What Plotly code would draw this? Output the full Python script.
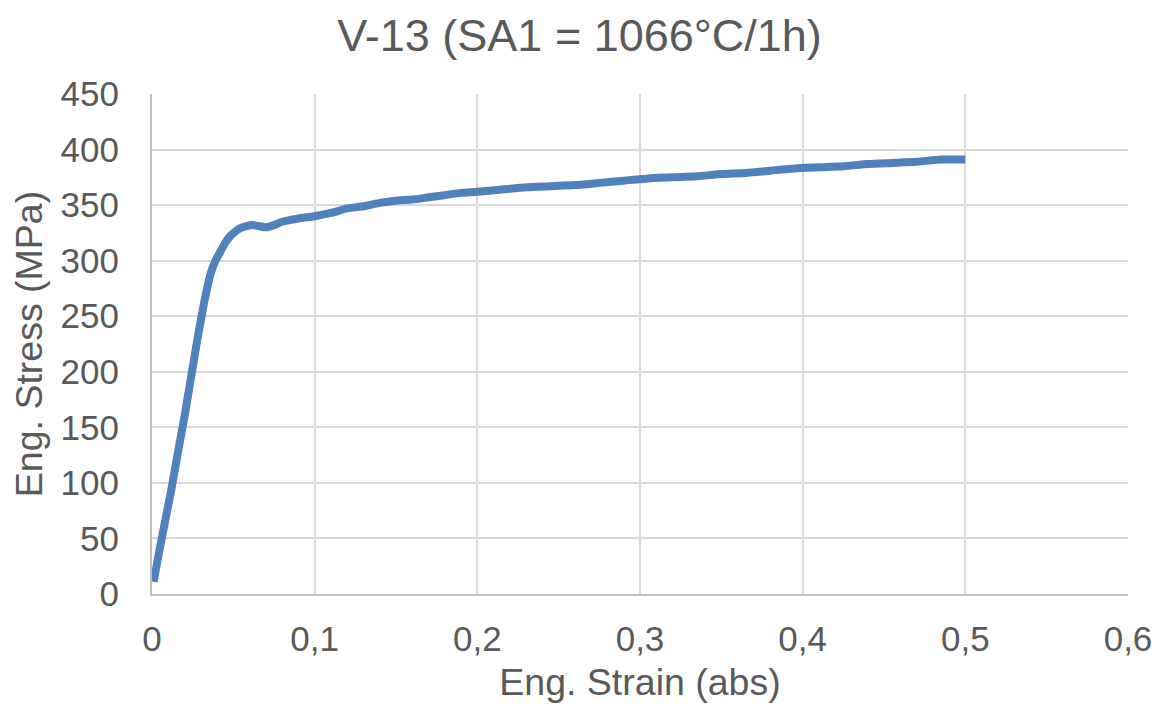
import plotly.graph_objects as go

strain = [0.001, 0.004, 0.008, 0.012, 0.016, 0.020, 0.024, 0.028, 0.032, 0.036,
          0.039, 0.042, 0.045, 0.048, 0.051, 0.054, 0.058, 0.062, 0.066, 0.070,
          0.075, 0.080, 0.090, 0.100, 0.110, 0.120, 0.130, 0.140, 0.150, 0.160,
          0.170, 0.180, 0.190, 0.200, 0.215, 0.230, 0.245, 0.260, 0.275, 0.290,
          0.305, 0.320, 0.335, 0.350, 0.365, 0.380, 0.395, 0.410, 0.425, 0.440,
          0.455, 0.470, 0.485, 0.500]
stress = [11, 35, 65, 95, 128, 160, 195, 230, 262, 288,
          300, 308, 316, 322, 326, 329, 331, 332, 331, 330,
          332, 335, 338, 340, 343, 347, 349, 352, 354, 355,
          357, 359, 361, 362, 364, 366, 367, 368, 370, 372,
          374, 375, 376, 378, 379, 381, 383, 384, 385, 387,
          388, 389, 391, 391]

x_ticks = [0, 0.1, 0.2, 0.3, 0.4, 0.5, 0.6]
y_ticks = [0, 50, 100, 150, 200, 250, 300, 350, 400, 450]

font_family = "Liberation Sans, Arial, sans-serif"
text_color = "#595959"
grid_color = "#d9d9d9"

fig = go.Figure()
fig.add_trace(go.Scatter(
    x=strain, y=stress, mode="lines",
    line=dict(color="#4f81bd", width=8, shape="spline", smoothing=0.5),
    showlegend=False,
))

fig.update_layout(
    width=1153, height=696,
    margin=dict(l=144, r=33, t=86, b=110),
    paper_bgcolor="white", plot_bgcolor="white",
    separators=",.",
    font=dict(family=font_family, color=text_color, size=35),
    title=dict(text="V-13 (SA1 = 1066°C/1h)", x=0.4957, xanchor="center",
               xref="container", yref="container",
               y=0.961, yanchor="middle",
               font=dict(size=45, color=text_color, family=font_family)),
    xaxis=dict(range=[0, 0.6], tickvals=x_ticks, showgrid=True,
               gridcolor=grid_color, gridwidth=2, zeroline=False,
               showline=True, linecolor="#bfbfbf", linewidth=2,
               ticks="", tickfont=dict(size=35), automargin=False,
               ticklabelstandoff=13,
               title=dict(text="Eng. Strain (abs)", font=dict(size=37.5), standoff=12)),
    yaxis=dict(range=[0, 450], tickvals=y_ticks, showgrid=True,
               gridcolor=grid_color, gridwidth=2, zeroline=False,
               showline=True, linecolor="#bfbfbf", linewidth=2,
               ticks="", tickfont=dict(size=35), automargin=False,
               ticklabelstandoff=24,
               title=dict(text="Eng. Stress (MPa)", font=dict(size=37.5), standoff=12)),
)

fig.write_html("out.html")
